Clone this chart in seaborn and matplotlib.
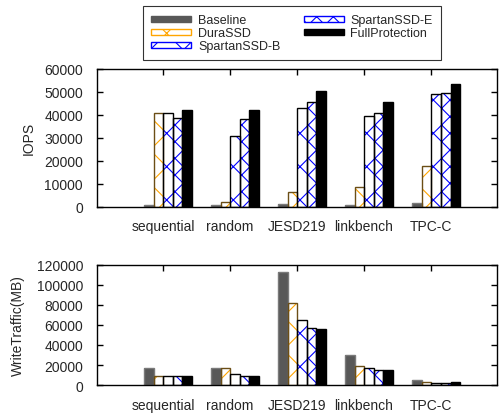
import numpy as np
import pandas as pd
import seaborn as sns
import matplotlib.pyplot as plt
from matplotlib.patches import Patch

# data
workloads = ["sequential", "random", "JESD219", "linkbench", "TPC-C"]
schemes = ["Baseline", "DuraSSD", "SpartanSSD-B", "SpartanSSD-E", "FullProtection"]

iops_baseline = [900, 900, 1400, 900, 1700]
iops_durassd = [40500, 2300, 6600, 8800, 17800]
iops_spartan_b = [40500, 30600, 42800, 39300, 49100]
iops_spartan_e = [38400, 37900, 45700, 40500, 49600]
iops_full = [41900, 42200, 50300, 45700, 53300]

wt_baseline = [17200, 17200, 113000, 30400, 5400]
wt_durassd = [8800, 17200, 81600, 18900, 3000]
wt_spartan_b = [8800, 11100, 64800, 16900, 2400]
wt_spartan_e = [8800, 8800, 57300, 14800, 2400]
wt_full = [8600, 8800, 56000, 15200, 3000]

iops = [iops_baseline, iops_durassd, iops_spartan_b, iops_spartan_e, iops_full]
wt = [wt_baseline, wt_durassd, wt_spartan_b, wt_spartan_e, wt_full]

rows = []
for s, a, b in zip(schemes, iops, wt):
    for w, v1, v2 in zip(workloads, a, b):
        rows.append({"workload": w, "scheme": s, "iops": v1, "traffic": v2})
df = pd.DataFrame(rows)

# styles
face = ["#585858", "white", "white", "white", "black"]
hatch_col = ["#585858", "#FFA500", "#0000FF", "#0000FF", "black"]
outline = ["#7a7a7a", "#6b4e16", "black", "black", "black"]
hatches = ["", "x", "x", "xx", ""]

sns.set_style("ticks")
plt.rcParams["font.family"] = ["Liberation Sans", "DejaVu Sans"]
plt.rcParams["hatch.linewidth"] = 0.8

fig = plt.figure(figsize=(5, 4.14), dpi=100)
ax1 = fig.add_axes([0.194, 0.498, 0.8, 0.334])
ax2 = fig.add_axes([0.194, 0.0676, 0.8, 0.29])


def draw(ax, col, ymax, ystep, ylabel, lx):
    sns.barplot(data=df, x="workload", y=col, hue="scheme", palette=face,
                width=0.72, saturation=1, errorbar=None, legend=False,
                linewidth=0, ax=ax)
    for i, cont in enumerate(ax.containers):
        for p in cont.patches:
            p.set_hatch(hatches[i])
            p.set_edgecolor(hatch_col[i])
            p.set_linewidth(0)
    # outlines on top of the hatched bars
    sns.barplot(data=df, x="workload", y=col, hue="scheme", palette=outline,
                width=0.72, saturation=1, errorbar=None, legend=False,
                fill=False, linewidth=1, ax=ax)
    ax.set_xlim(-1.06, 4.91)
    ax.set_xticks(np.arange(len(workloads)) - 0.075, workloads)
    ax.set_ylim(0, ymax)
    ax.set_yticks(np.arange(0, ymax + 1, ystep))
    ax.set_xlabel("")
    ax.set_ylabel(ylabel, fontsize=10)
    ax.yaxis.set_label_coords(lx, 0.5)
    ax.tick_params(axis="x", direction="in", top=True, bottom=False,
                   length=4, width=1, pad=9, labelsize=10, color="black")
    ax.tick_params(axis="y", direction="in", left=True, right=True,
                   length=4, width=1, pad=10, labelsize=10, color="black")
    for sp in ax.spines.values():
        sp.set_visible(True)
        sp.set_linewidth(1)
        sp.set_color("black")


draw(ax1, "iops", 60000, 10000, "IOPS", -0.152)
draw(ax2, "traffic", 120000, 20000, "WriteTraffic(MB)", -0.18)

handles = [Patch(facecolor=f, edgecolor=c, hatch=h, linewidth=1)
           for f, c, h in zip(face, hatch_col, hatches)]
leg = fig.legend(handles, schemes, ncol=2, loc="upper left",
                 bbox_to_anchor=(143 / 500, 1 - 7 / 414), frameon=True,
                 fancybox=False, edgecolor="black", fontsize=9,
                 handlelength=3.2, handleheight=0.4, labelspacing=0.08,
                 handletextpad=0.55, columnspacing=1.85, borderpad=0.65,
                 borderaxespad=0)
leg.get_frame().set_linewidth(0.8)

fig.savefig("out.png", dpi=100)
